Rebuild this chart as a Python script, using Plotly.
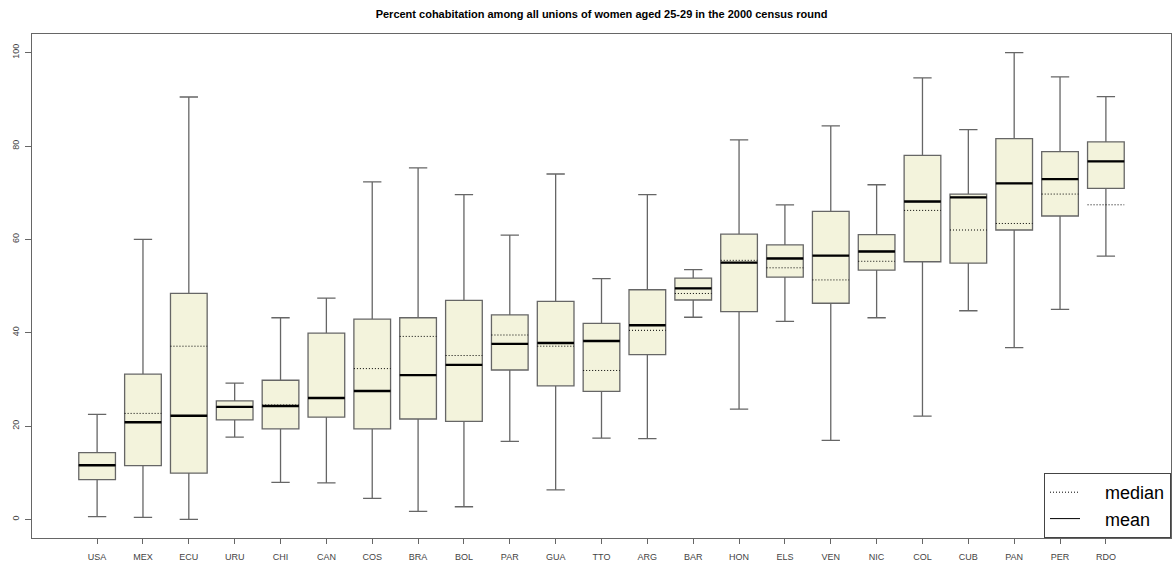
import plotly.graph_objects as go

countries = ["USA", "MEX", "ECU", "URU", "CHI", "CAN", "COS", "BRA", "BOL", "PAR", "GUA", "TTO",
             "ARG", "BAR", "HON", "ELS", "VEN", "NIC", "COL", "CUB", "PAN", "PER", "RDO"]
whisker_low = [0.6, 0.4, 0.0, 17.6, 7.9, 7.8, 4.5, 1.7, 2.7, 16.7, 6.3, 17.4,
               17.3, 43.3, 23.6, 42.4, 16.9, 43.2, 22.1, 44.7, 36.8, 45.0, 56.4]
q1 = [8.5, 11.5, 9.9, 21.3, 19.4, 21.9, 19.4, 21.5, 21.0, 32.0, 28.6, 27.4,
      35.3, 47.0, 44.5, 51.9, 46.3, 53.4, 55.2, 54.9, 62.0, 65.0, 70.9]
mean_vals = [11.6, 20.8, 22.2, 24.1, 24.3, 26.0, 27.5, 30.9, 33.1, 37.6, 37.8, 38.2,
             41.6, 49.5, 55.0, 55.9, 56.5, 57.4, 68.1, 69.0, 72.0, 72.9, 76.7]
median_vals = [11.6, 22.7, 37.1, 24.0, 24.5, 26.0, 32.3, 39.2, 35.1, 39.5, 37.1, 31.9,
               40.5, 48.4, 55.5, 53.9, 51.3, 55.3, 66.2, 62.0, 63.4, 69.7, 67.4]
q3 = [14.3, 31.1, 48.4, 25.4, 29.8, 39.9, 42.9, 43.2, 46.9, 43.8, 46.7, 42.0,
      49.2, 51.7, 61.1, 58.8, 66.0, 61.0, 78.0, 69.7, 81.6, 78.8, 80.9]
whisker_high = [22.5, 60.0, 90.5, 29.2, 43.2, 47.4, 72.3, 75.3, 69.6, 60.9, 74.0, 51.6,
                69.6, 53.5, 81.3, 67.4, 84.3, 71.7, 94.6, 83.5, 100.0, 94.8, 90.6]

title_text = "Percent cohabitation among all unions of women aged 25-29 in the 2000 census round"
y_ticks = [0, 20, 40, 60, 80, 100]
legend_names = ["median", "mean"]

pos = list(range(1, len(countries) + 1))
half = 0.4

def seg(vals):
    xs, ys = [], []
    for p, v in zip(pos, vals):
        xs += [p - half, p + half, None]
        ys += [v, v, None]
    return xs, ys

fig = go.Figure()
fig.add_trace(go.Box(
    x=pos, q1=q1, median=mean_vals, q3=q3, lowerfence=whisker_low, upperfence=whisker_high,
    width=0.8, whiskerwidth=0.5, boxpoints=False,
    fillcolor="#F3F3DC", line=dict(color="#666666", width=1.3),
    showlegend=False, hoverinfo="skip"))

mx, my = seg(median_vals)
fig.add_trace(go.Scatter(x=mx, y=my, mode="lines", showlegend=False,
                         line=dict(color="black", width=1, dash="1px,2px"), hoverinfo="skip"))
ax, ay = seg(mean_vals)
fig.add_trace(go.Scatter(x=ax, y=ay, mode="lines", showlegend=False,
                         line=dict(color="black", width=2.4), hoverinfo="skip"))

pad = "\u00a0" * 4
fig.add_trace(go.Scatter(x=[None], y=[None], mode="lines", name=pad + legend_names[0],
                         line=dict(color="black", width=1, dash="1px,2px")))
fig.add_trace(go.Scatter(x=[None], y=[None], mode="lines", name=pad + legend_names[1],
                         line=dict(color="black", width=1)))

fig.update_layout(
    width=1172, height=567,
    margin=dict(l=32, r=1, t=34, b=29),
    paper_bgcolor="white", plot_bgcolor="white",
    font=dict(family="Liberation Sans, Arial, sans-serif", color="#444444"),
    title=dict(text="<b>" + title_text + "</b>", xref="paper", x=0.5, xanchor="center",
               y=1 - 14 / 567, yanchor="middle", font=dict(size=11, color="black")),
    xaxis=dict(range=[-0.42, 24.42], tickmode="array", tickvals=pos, ticktext=countries, automargin=False,
               showgrid=False, zeroline=False, showline=True, mirror=True, linecolor="#666666", linewidth=1.3,
               ticks="outside", ticklen=5, tickcolor="#666666", ticklabelstandoff=5,
               tickfont=dict(size=9, color="#444444")),
    yaxis=dict(range=[-4, 104], tickmode="array", tickvals=y_ticks, ticktext=[str(v) for v in y_ticks],
               automargin=False,
               showgrid=False, zeroline=False, showline=True, mirror=True, linecolor="#666666", linewidth=1.3,
               ticks="outside", ticklen=6, tickcolor="#666666", tickangle=-90, ticklabelstandoff=2,
               tickfont=dict(size=9, color="#444444")),
    legend=dict(x=1, y=0, xanchor="right", yanchor="bottom", bordercolor="#444444", borderwidth=1,
                bgcolor="white", font=dict(size=18, color="black"), tracegroupgap=0),
)

fig.write_html("out.html", config={"displayModeBar": False},
               post_script="document.body.style.margin='0';document.body.style.overflow='hidden';")
